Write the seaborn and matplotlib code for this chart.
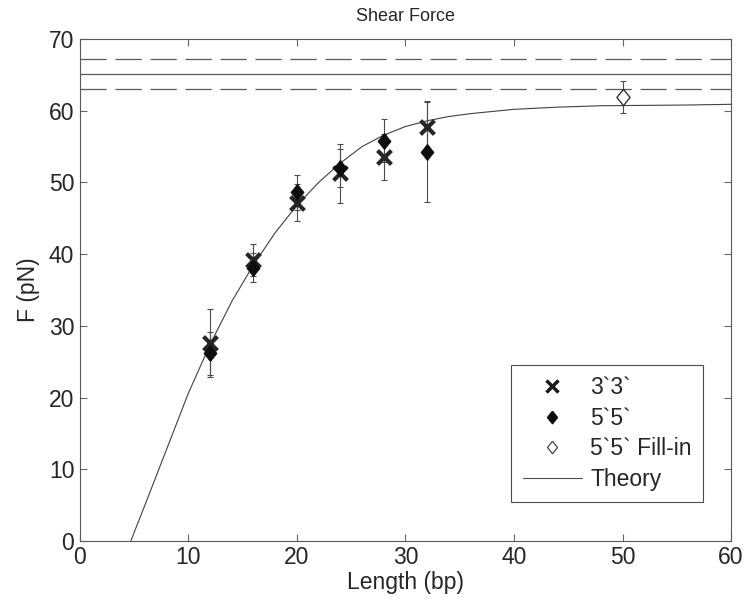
import matplotlib
matplotlib.use('Agg')
import matplotlib.pyplot as plt
from matplotlib.lines import Line2D
import pandas as pd
import seaborn as sns

# 3`3` measurements (x markers)
length_33 = [12, 16, 20, 24, 28, 32]
force_33 = [27.6, 39.2, 47.2, 51.3, 53.5, 57.7]
err_33 = [4.7, 2.2, 2.6, 4.1, 3.2, 3.5]

# 5`5` measurements (filled diamonds)
length_55 = [12, 16, 20, 24, 28, 32]
force_55 = [26.2, 38.1, 48.6, 52.0, 55.8, 54.3]
err_55 = [3.0, 2.0, 2.4, 2.6, 3.0, 7.0]

# 5`5` fill-in (open diamond)
length_fill = [50]
force_fill = [61.9]
err_fill = [2.2]

# theory curve
theory_len = [4.7, 6, 8, 10, 12, 14, 16, 18, 20, 22, 24, 26, 28, 30, 32,
              34, 36, 38, 40, 44, 48, 52, 56, 60]
theory_force = [0, 5.0, 12.8, 20.6, 27.4, 33.4, 38.5, 43.0, 46.8, 50.0, 52.7,
                55.0, 56.6, 57.8, 58.6, 59.2, 59.6, 59.9, 60.2, 60.5, 60.7,
                60.75, 60.8, 60.9]

# plateau force and its band
plateau = 65.1
plateau_err = 2.05

sns.set_style("ticks")
plt.rcParams['font.family'] = ['Liberation Sans', 'DejaVu Sans']

diamond = [(0, 1), (0.8, 0), (0, -1), (-0.8, 0), (0, 1)]

fig, ax = plt.subplots(figsize=(7.46, 6.01), dpi=100)
fig.subplots_adjust(left=0.107, right=0.980, bottom=0.100, top=0.935)

# plateau lines
dash = (0, (21, 7))
ax.axhline(plateau + plateau_err, color='0.35', lw=0.9, ls=dash)
ax.axhline(plateau, color='0.35', lw=0.9)
ax.axhline(plateau - plateau_err, color='0.35', lw=0.9, ls=dash)

# theory
sns.lineplot(x=theory_len, y=theory_force, color='0.25', lw=0.8, ax=ax)

# error bars
eb = dict(fmt='none', ecolor='0.3', elinewidth=0.8, capsize=2.5, capthick=0.8)
ax.errorbar(length_33, force_33, yerr=err_33, **eb)
ax.errorbar(length_55, force_55, yerr=err_55, **eb)
ax.errorbar(length_fill, force_fill, yerr=err_fill, **eb)

# points
df33 = pd.DataFrame({'Length': length_33, 'F': force_33})
df55 = pd.DataFrame({'Length': length_55, 'F': force_55})
dffill = pd.DataFrame({'Length': length_fill, 'F': force_fill})
sns.scatterplot(data=df33, x='Length', y='F', marker='x', s=100,
                color='0.15', linewidth=3, ax=ax, zorder=4)
sns.scatterplot(data=df55, x='Length', y='F', marker=diamond, s=140,
                color='0.05', edgecolor='0.05', linewidth=0.5, ax=ax, zorder=5)
sns.scatterplot(data=dffill, x='Length', y='F', marker=diamond, s=140,
                facecolor='white', edgecolor='0.2', linewidth=1, ax=ax, zorder=5)

ax.set_xlim(0, 60)
ax.set_ylim(0, 70)
ax.set_xticks(range(0, 61, 10))
ax.set_yticks(range(0, 71, 10))
ax.tick_params(direction='in', top=True, right=True, length=5, width=0.8,
               color='0.4', labelsize=16.5, pad=4)
for s in ax.spines.values():
    s.set_color('0.35')
    s.set_linewidth(0.8)

ax.set_title('Shear Force', fontsize=13, color='0.15', pad=13)
ax.set_xlabel('Length (bp)', fontsize=16.5, labelpad=1)
ax.set_ylabel('F (pN)', fontsize=16.5, labelpad=6)

handles = [
    Line2D([], [], ls='none', marker='x', color='0.1', mew=2.5, ms=8),
    Line2D([], [], ls='none', marker=diamond, color='0.05', ms=9),
    Line2D([], [], ls='none', marker=diamond, mfc='white', mec='0.2', mew=0.8, ms=9),
    Line2D([], [], color='0.3', lw=0.8),
]
labels = ['3`3`', '5`5`', '5`5` Fill-in', 'Theory']
leg = ax.legend(handles, labels, loc='lower right', bbox_to_anchor=(0.957, 0.077),
                borderaxespad=0, fontsize=16.5, frameon=True, fancybox=False,
                framealpha=1, edgecolor='0.3', handlelength=2.6,
                labelspacing=0.33, borderpad=0.5, handletextpad=0.35)
leg.get_frame().set_linewidth(0.8)

fig.savefig('out.png', dpi=100)
